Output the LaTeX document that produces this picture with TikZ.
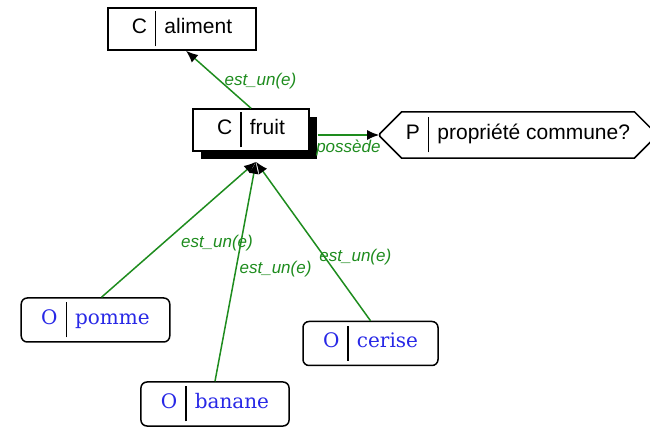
\documentclass[tikz,border=0pt]{standalone}
\usepackage{fontspec}
\setmainfont{Liberation Sans}
\newfontfamily\objfont{DejaVu Serif}
\usetikzlibrary{arrows.meta,shapes.misc,shadows}
\definecolor{linkgreen}{RGB}{30,140,30}
\definecolor{objblue}{RGB}{40,40,230}
\newcommand{\sepbar}{\hspace{8pt}\vrule width 1.5pt height 22pt depth 13pt\hspace{8pt}}
\newcommand{\concept}[2]{#1\sepbar #2}
\newcommand{\objet}[2]{{\objfont\color{objblue}#1}\sepbar{\objfont\color{objblue}#2}}
\tikzset{
	cbox/.style={draw, line width=1.5pt, fill=white, inner xsep=24pt, inner ysep=2pt,
		minimum height=42pt, font=\fontsize{21pt}{25pt}\selectfont},
	shadowed/.style={drop shadow={shadow xshift=8pt, shadow yshift=-8pt, fill=black, opacity=1}},
	pbox/.style={cbox, chamfered rectangle, chamfered rectangle xsep=18pt,
		minimum width=253pt, minimum height=46pt, inner xsep=8pt},
	obox/.style={draw, line width=1.5pt, rounded corners=6pt, inner xsep=20pt, inner ysep=2pt,
		minimum height=44pt, font=\fontsize{20pt}{24pt}\selectfont},
	link/.style={draw=linkgreen, line width=1.5pt, -{Latex[length=12pt,width=10pt,black]}},
	elabel/.style={text=linkgreen, font=\fontsize{17pt}{19pt}\selectfont\itshape, inner sep=1pt}
}

\begin{document}
\begin{tikzpicture}[x=1pt,y=1pt]
	\useasboundingbox (0,0) rectangle (650,428);

	% concepts and property
	\node[cbox] (aliment) at (182,399) {\concept{C}{aliment}};
	\node[cbox, shadowed] (fruit) at (251,298) {\concept{C}{fruit}};
	\node[pbox] (prop) at (518,293) {\concept{P}{propriété commune?}};

	% objects
	\node[obox] (pomme) at (95.5,108) {\objet{O}{pomme}};
	\node[obox] (banane) at (215,24) {\objet{O}{banane}};
	\node[obox] (cerise) at (370.5,84.5) {\objet{O}{cerise}};

	% links
	\coordinate (fe) at ([xshift=8pt]fruit.east);
	\coordinate (fin) at ([shift={(5pt,-10pt)}]fruit.south);

	\draw[link] (fruit.north) -- ([xshift=4pt]aliment.south)
		node[elabel, pos=0.48, anchor=west, xshift=3pt] {est\_un(e)};
	\draw[link] (fe |- prop.west) -- (prop.west)
		node[elabel, midway, below=3pt] {possède};

	\draw[link] ([xshift=6pt]pomme.north) -- (fin)
		node[elabel, pos=0.4, anchor=west, xshift=16pt] {est\_un(e)};
	\draw[link] (banane.north) -- (fin)
		node[elabel, pos=0.51, anchor=west, xshift=2pt] {est\_un(e)};
	\draw[link] (cerise.north) -- (fin)
		node[elabel, pos=0.4, anchor=west, xshift=-7pt] {est\_un(e)};

\end{tikzpicture}
\end{document}
